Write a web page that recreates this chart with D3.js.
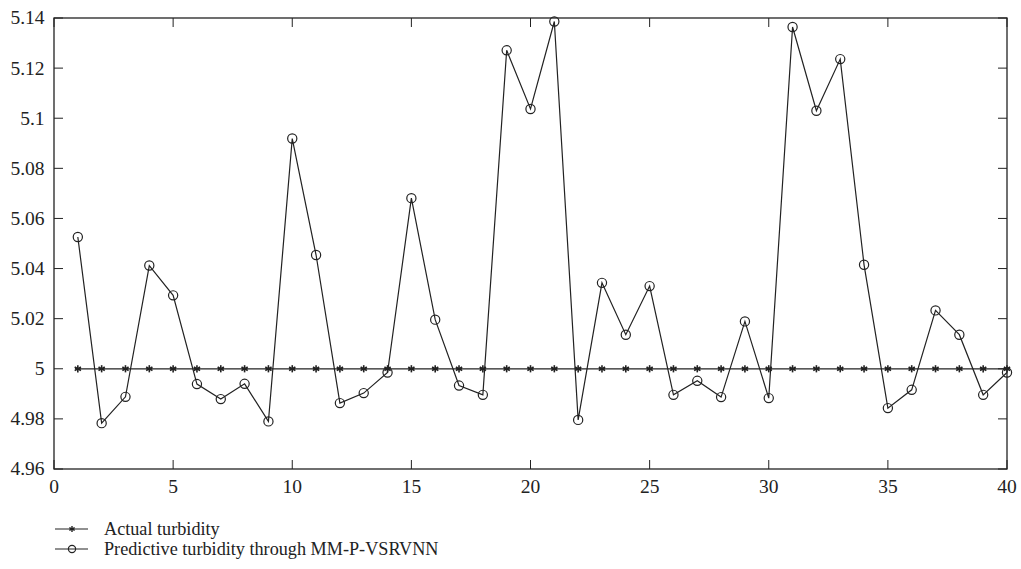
<!DOCTYPE html>
<html><head><meta charset="utf-8">
<script src="https://cdn.jsdelivr.net/npm/d3@7"></script>
<style>body{margin:0;background:#fff}svg{display:block}text{font-family:"Liberation Serif","DejaVu Serif",serif;fill:#222}</style>
</head><body><svg id="c" width="1021" height="569"></svg>
<script>
const xIdx = d3.range(1, 41);
const actual = xIdx.map(() => 5);
const predicted = [5.0526,4.9783,4.9888,5.0412,5.0293,4.9939,4.9879,4.9940,4.9790,5.0919,
5.0454,4.9863,4.9903,4.9985,5.0681,5.0196,4.9933,4.9896,5.1271,5.1037,
5.1386,4.9796,5.0343,5.0136,5.0330,4.9896,4.9952,4.9887,5.0189,4.9883,
5.1364,5.1030,5.1236,5.0415,4.9843,4.9916,5.0233,5.0136,4.9896,4.9985];
const xTicks = [0,5,10,15,20,25,30,35,40];
const yTicks = [4.96,4.98,5,5.02,5.04,5.06,5.08,5.1,5.12,5.14];
const legendLabels = ["Actual turbidity","Predictive turbidity through MM-P-VSRVNN"];

const L=54,R=1007,T=18,B=469;
const svg=d3.select("#c");
const x=d3.scaleLinear().domain([0,40]).range([L,R]);
const y=d3.scaleLinear().domain([4.96,5.14]).range([B,T]);
const col="#222";
const fmt=d=>String(+d.toFixed(2));

const g=svg.append("g");
xTicks.forEach(t=>{
  g.append("line").attr("x1",x(t)).attr("x2",x(t)).attr("y1",B).attr("y2",B-9).attr("stroke",col);
  g.append("line").attr("x1",x(t)).attr("x2",x(t)).attr("y1",T).attr("y2",T+9).attr("stroke",col);
  g.append("text").attr("x",x(t)).attr("y",B+24).attr("text-anchor","middle").attr("font-size",19.5).text(t);
});
yTicks.forEach(t=>{
  g.append("line").attr("x1",L).attr("x2",L+9).attr("y1",y(t)).attr("y2",y(t)).attr("stroke",col);
  g.append("line").attr("x1",R).attr("x2",R-9).attr("y1",y(t)).attr("y2",y(t)).attr("stroke",col);
  g.append("text").attr("x",44.5).attr("y",y(t)).attr("dy","0.33em").attr("text-anchor","end").attr("font-size",19.5).text(fmt(t));
});
svg.append("rect").attr("x",L).attr("y",T).attr("width",R-L).attr("height",B-T).attr("fill","none").attr("stroke",col).attr("stroke-width",1.3);

const line=d3.line().x((d,i)=>x(xIdx[i])).y(d=>y(d));
svg.append("path").attr("d",line(actual)).attr("fill","none").attr("stroke",col).attr("stroke-width",1.3);
svg.append("path").attr("d",line(predicted)).attr("fill","none").attr("stroke",col).attr("stroke-width",1.2);

function star(sel,cx,cy,s,w){
  [30,90,150].forEach(d=>{const r=d*Math.PI/180;
    sel.append("line").attr("x1",cx-s*Math.cos(r)).attr("y1",cy-s*Math.sin(r)).attr("x2",cx+s*Math.cos(r)).attr("y2",cy+s*Math.sin(r)).attr("stroke",col).attr("stroke-width",w);});
  sel.append("line").attr("x1",cx-s*0.8).attr("y1",cy).attr("x2",cx+s*0.8).attr("y2",cy).attr("stroke",col).attr("stroke-width",w);
}
const ms=svg.append("g");
actual.forEach((v,i)=>star(ms,x(xIdx[i]),y(v),3.6,1.6));
svg.append("g").selectAll("circle").data(predicted).join("circle")
  .attr("cx",(d,i)=>x(xIdx[i])).attr("cy",d=>y(d)).attr("r",4.6).attr("fill","none").attr("stroke",col).attr("stroke-width",1.2);

const lg=svg.append("g");
[529,549].forEach((ly,i)=>{
  lg.append("line").attr("x1",55).attr("x2",88).attr("y1",ly).attr("y2",ly).attr("stroke",col).attr("stroke-width",1.2);
  if(i===0) star(lg,72,ly,3,1.4); else lg.append("circle").attr("cx",72).attr("cy",ly).attr("r",3.6).attr("fill","none").attr("stroke",col).attr("stroke-width",1.2);
  lg.append("text").attr("x",104).attr("y",ly).attr("dy","0.33em").attr("font-size",18.2).text(legendLabels[i]);
});
</script></body></html>
